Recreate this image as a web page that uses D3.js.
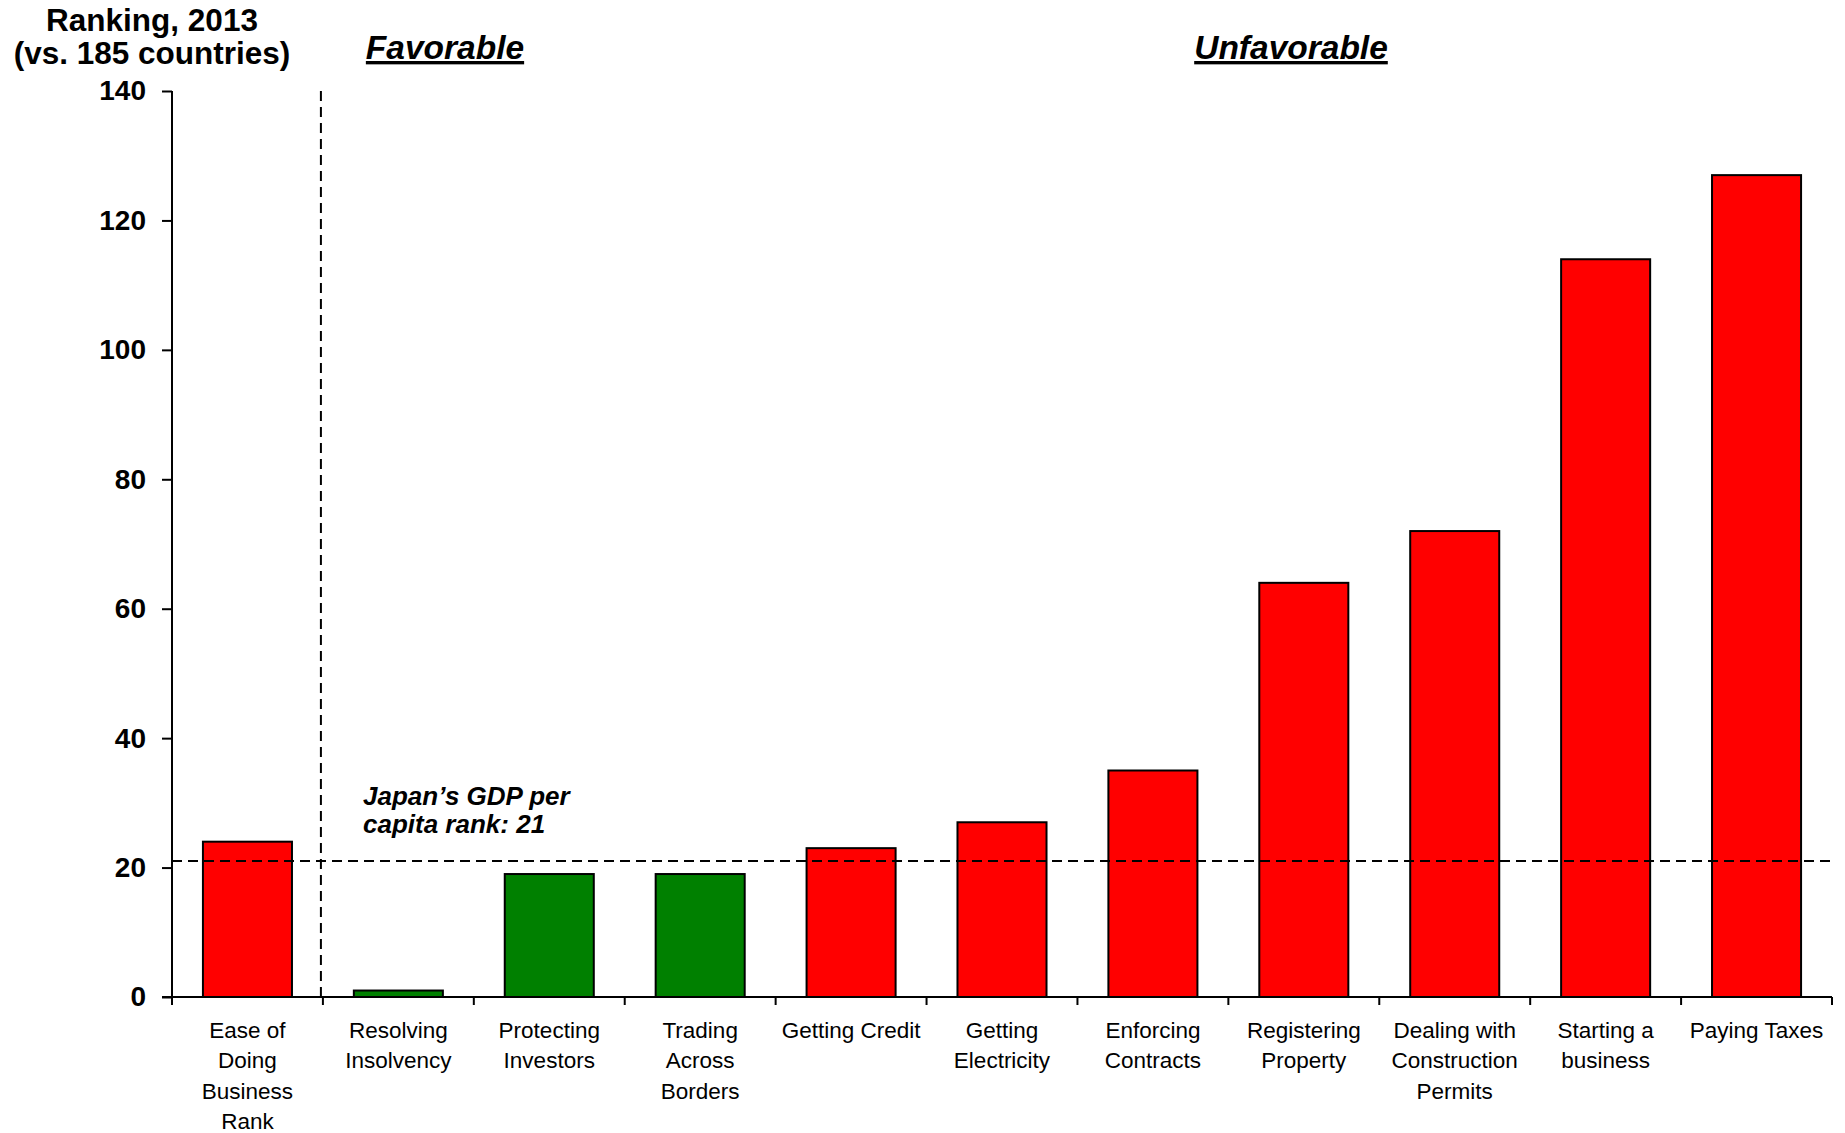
<!DOCTYPE html>
<html>
<head>
<meta charset="utf-8">
<script src="https://cdn.jsdelivr.net/npm/d3@7"></script>
<style>
  body { margin: 0; background: #fff; }
  svg text { font-family: "Liberation Sans", Arial, sans-serif; }
</style>
</head>
<body>
<div id="chart"></div>
<script>
// Japan, Doing Business 2013 rankings
const categories = [
    ["Ease of", "Doing", "Business", "Rank"],
    ["Resolving", "Insolvency"],
    ["Protecting", "Investors"],
    ["Trading", "Across", "Borders"],
    ["Getting Credit"],
    ["Getting", "Electricity"],
    ["Enforcing", "Contracts"],
    ["Registering", "Property"],
    ["Dealing with", "Construction", "Permits"],
    ["Starting a", "business"],
    ["Paying Taxes"]
];
const rankings = [24, 1, 19, 19, 23, 27, 35, 64, 72, 114, 127];
const favorable = [false, true, true, true, false, false, false, false, false, false, false];
const yTicks = [0, 20, 40, 60, 80, 100, 120, 140];
const gdpRank = 21;

const width = 1845;
const height = 1133;
const margin = { left: 172, right: 13, top: 91, bottom: 136 };

const svg = d3.select("#chart")
    .append("svg")
    .attr("width", width)
    .attr("height", height);

const x = d3.scaleBand()
    .domain(d3.range(categories.length))
    .range([margin.left, width - margin.right])
    .paddingInner(0.41)
    .paddingOuter(0.205);

const y = d3.scaleLinear()
    .domain([0, 140])
    .range([height - margin.bottom, margin.top]);

const step = x.step();
const x0 = margin.left;
const x1 = width - margin.right;

// bars
svg.append("g")
    .selectAll("rect")
    .data(rankings)
    .enter().append("rect")
    .attr("x", (d, i) => x(i))
    .attr("y", d => y(d))
    .attr("width", x.bandwidth())
    .attr("height", d => y(0) - y(d))
    .attr("fill", (d, i) => favorable[i] ? "#008000" : "#ff0000")
    .attr("stroke", "#000")
    .attr("stroke-width", 2);

// y axis
const yAxis = svg.append("g")
    .attr("transform", `translate(${x0},0)`)
    .call(d3.axisLeft(y).tickValues(yTicks).tickSize(10).tickPadding(16));
yAxis.select(".domain").attr("stroke-width", 2).attr("d", `M0,${y(140)}V${y(0)}`);
yAxis.selectAll(".tick line").attr("stroke-width", 2);
yAxis.selectAll("text")
    .attr("font-size", 28)
    .attr("font-weight", "bold")
    .attr("fill", "#000")
    .attr("font-family", "Liberation Sans, Arial, sans-serif");

// x axis with ticks at category boundaries
const boundaries = d3.range(categories.length + 1).map(i => x0 + i * step);
svg.append("line")
    .attr("x1", x0 - 10).attr("x2", x1)
    .attr("y1", y(0)).attr("y2", y(0))
    .attr("stroke", "#000").attr("stroke-width", 2);
svg.append("g")
    .selectAll("line")
    .data(boundaries)
    .enter().append("line")
    .attr("x1", d => d).attr("x2", d => d)
    .attr("y1", y(0)).attr("y2", y(0) + 8)
    .attr("stroke", "#000").attr("stroke-width", 2);

// category labels
const labels = svg.append("g")
    .selectAll("text")
    .data(categories)
    .enter().append("text")
    .attr("text-anchor", "middle")
    .attr("font-size", 22.5)
    .attr("fill", "#000");
labels.selectAll("tspan")
    .data((d, i) => d.map(t => ({ t, i })))
    .enter().append("tspan")
    .attr("x", d => x(d.i) + x.bandwidth() / 2)
    .attr("y", (d, j) => y(0) + 41 + j * 30.4)
    .text(d => d.t);

// dashed separator between overall rank and components
svg.append("line")
    .attr("x1", x0 + step - 2).attr("x2", x0 + step - 2)
    .attr("y1", y(140)).attr("y2", y(0))
    .attr("stroke", "#000").attr("stroke-width", 2)
    .attr("stroke-dasharray", "10,6");

// GDP per capita reference line
svg.append("line")
    .attr("x1", x0).attr("x2", x1)
    .attr("y1", y(gdpRank)).attr("y2", y(gdpRank))
    .attr("stroke", "#000").attr("stroke-width", 2)
    .attr("stroke-dasharray", "10,6");

svg.append("text")
    .attr("x", 363)
    .attr("font-size", 26)
    .attr("font-weight", "bold")
    .attr("font-style", "italic")
    .selectAll("tspan")
    .data(["Japan\u2019s GDP per", "capita rank: " + gdpRank])
    .enter().append("tspan")
    .attr("x", 363)
    .attr("y", (d, i) => 805 + i * 28)
    .text(d => d);

// title
svg.append("text")
    .attr("text-anchor", "middle")
    .attr("font-size", 31.5)
    .attr("font-weight", "bold")
    .selectAll("tspan")
    .data(["Ranking, 2013", "(vs. 185 countries)"])
    .enter().append("tspan")
    .attr("x", 152)
    .attr("y", (d, i) => 31 + i * 33)
    .text(d => d);

// group headers
svg.selectAll(".header")
    .data([["Favorable", 445], ["Unfavorable", 1291]])
    .enter().append("text")
    .attr("class", "header")
    .attr("x", d => d[1])
    .attr("y", 59)
    .attr("text-anchor", "middle")
    .attr("font-size", 33.5)
    .attr("font-weight", "bold")
    .attr("font-style", "italic")
    .attr("text-decoration", "underline")
    .text(d => d[0]);
</script>
</body>
</html>
